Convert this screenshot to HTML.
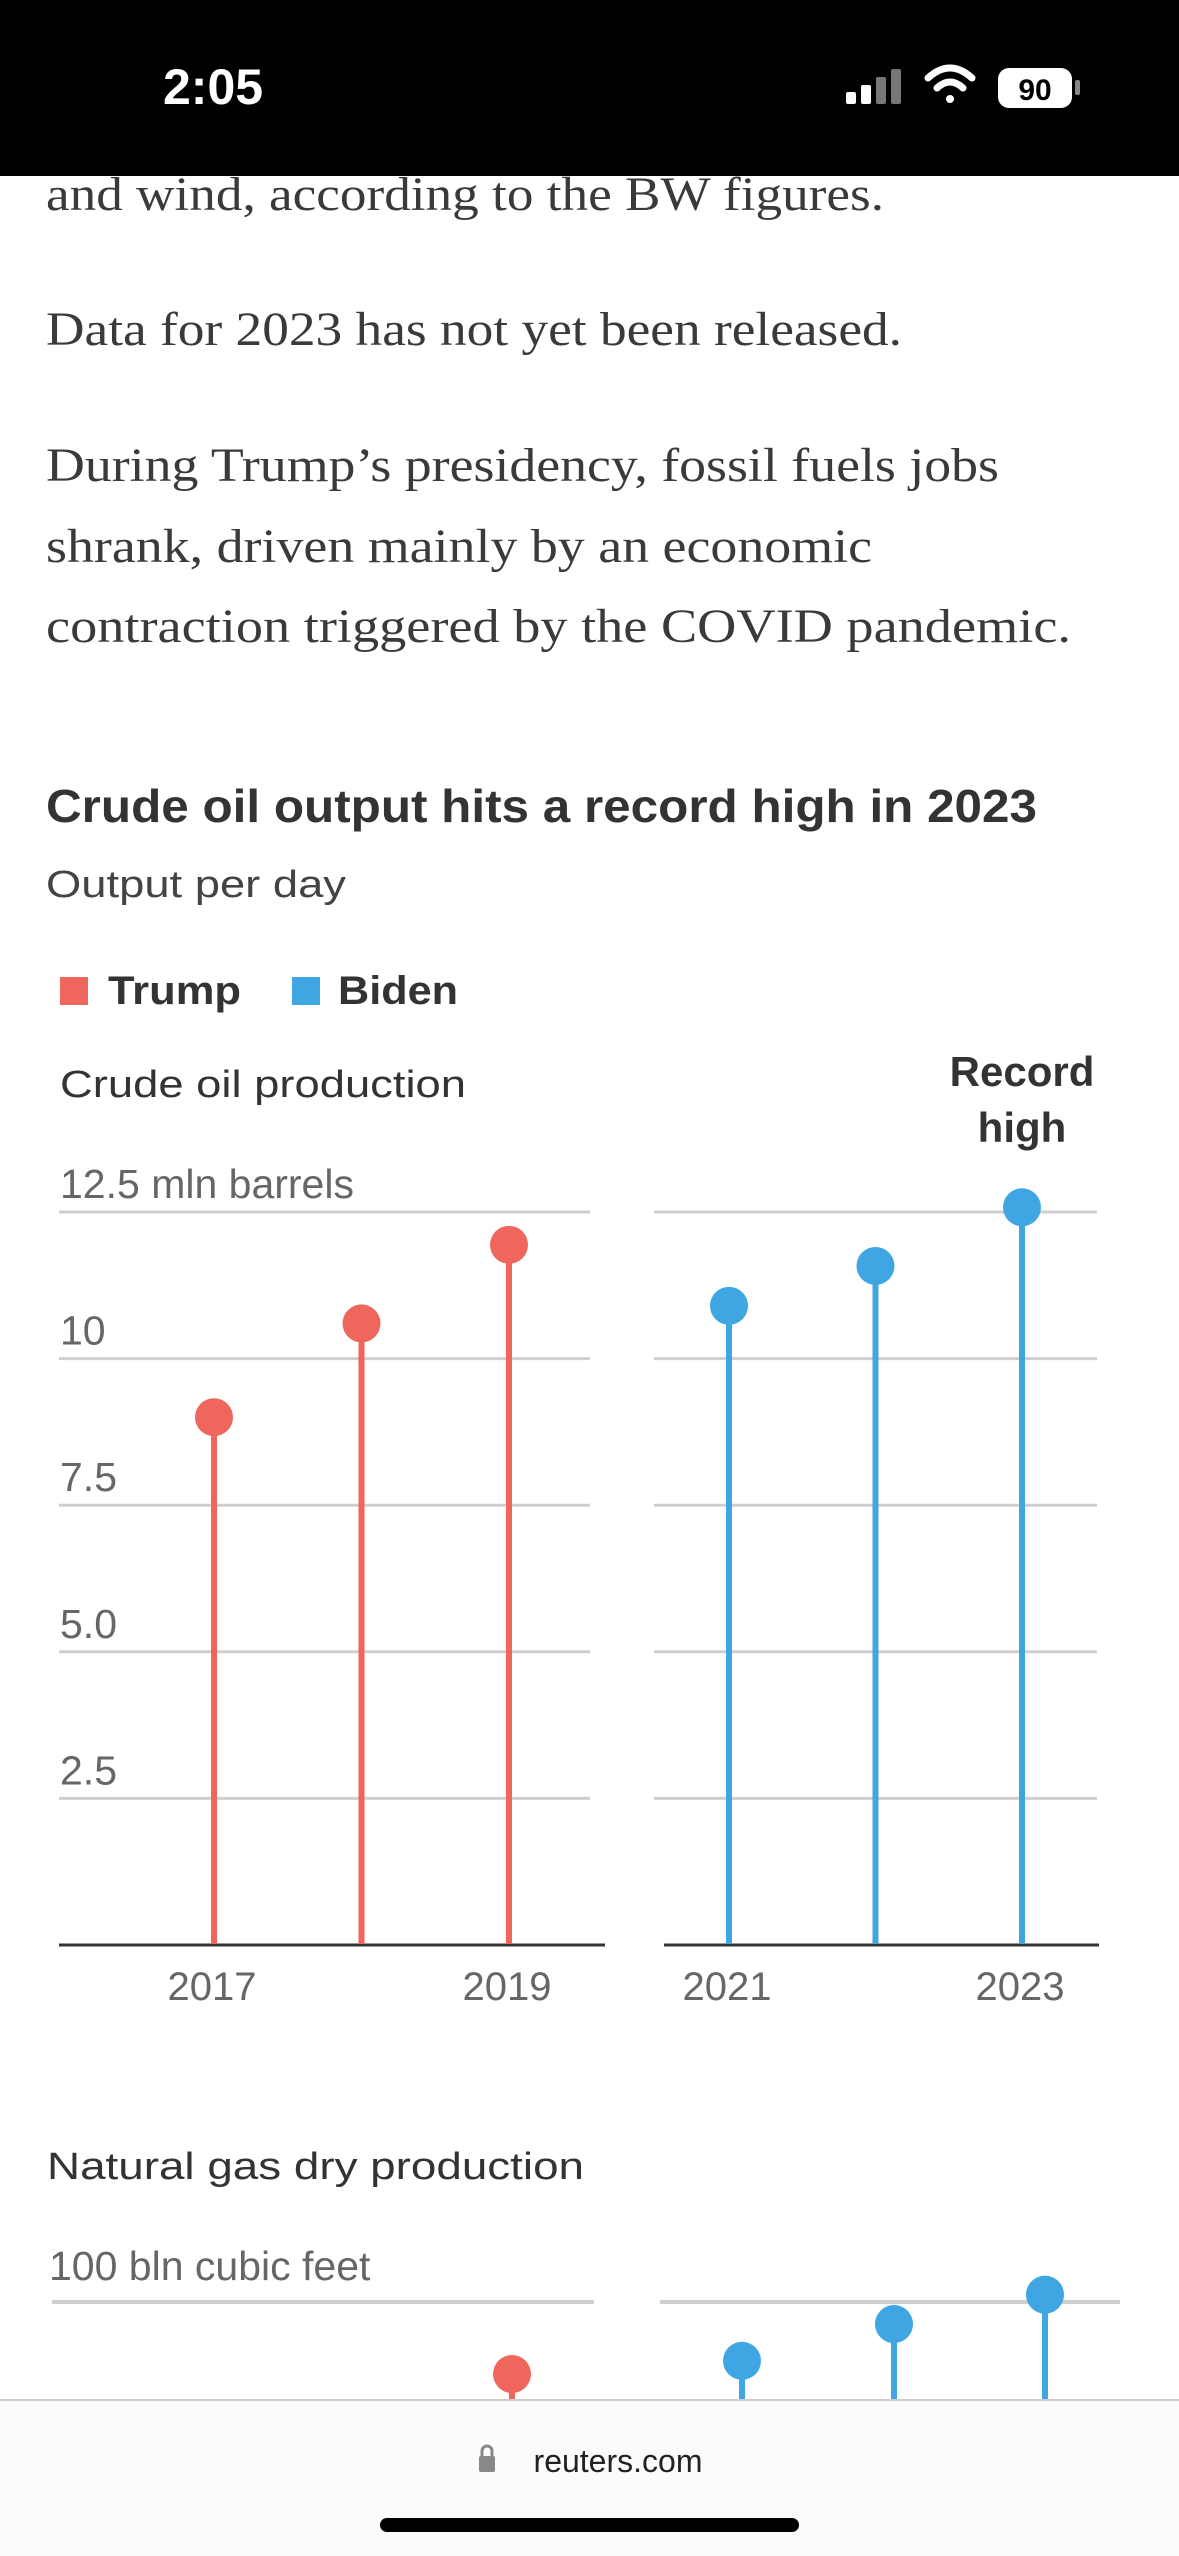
<!DOCTYPE html>
<html><head><meta charset="utf-8"><style>
html,body{margin:0;padding:0;background:#fff;width:1179px;height:2556px;overflow:hidden}
svg{display:block}
</style></head><body>
<svg id="page" width="1179" height="2556" viewBox="0 0 1179 2556" xmlns="http://www.w3.org/2000/svg">
<g font-family="Liberation Serif, serif" font-size="48" fill="#3a3a3a">
<text x="46" y="210" textLength="838" lengthAdjust="spacingAndGlyphs">and wind, according to the BW figures.</text>
<text x="46" y="345" textLength="856" lengthAdjust="spacingAndGlyphs">Data for 2023 has not yet been released.</text>
<text x="46" y="481" textLength="953" lengthAdjust="spacingAndGlyphs">During Trump’s presidency, fossil fuels jobs</text>
<text x="46" y="562" textLength="826" lengthAdjust="spacingAndGlyphs">shrank, driven mainly by an economic</text>
<text x="46" y="642" textLength="1025" lengthAdjust="spacingAndGlyphs">contraction triggered by the COVID pandemic.</text>
</g>
<rect x="0" y="0" width="1179" height="176" fill="#000"/>
<text x="163" y="104" font-family="Liberation Sans, sans-serif" font-weight="bold" font-size="50" fill="#fff">2:05</text>
<g fill="#fff">
<rect x="846" y="92" width="10" height="12" rx="2"/><rect x="861" y="85" width="10" height="19" rx="2"/><rect x="876" y="77" width="10" height="27" rx="2" fill="#777"/><rect x="891" y="69" width="10" height="35" rx="2" fill="#777"/>
</g>
<g fill="none" stroke="#fff" stroke-width="7" stroke-linecap="round">
<path d="M928 78 Q950 58 972 78"/><path d="M937 88 Q950 76 963 88"/><circle cx="950" cy="99" r="4" fill="#fff" stroke="none"/>
</g>
<g>
<rect x="998" y="68" width="74" height="40" rx="11" fill="#fff"/>
<rect x="1075" y="80" width="5" height="15" rx="2" fill="#888"/>
<text x="1035" y="100" text-anchor="middle" font-family="Liberation Sans, sans-serif" font-weight="bold" font-size="30" fill="#000">90</text>
</g>

<text x="46" y="822" font-family="Liberation Sans, sans-serif" font-weight="bold" font-size="46" fill="#333" textLength="991" lengthAdjust="spacingAndGlyphs">Crude oil output hits a record high in 2023</text>
<text x="46" y="897" font-family="Liberation Sans, sans-serif" font-size="38" fill="#444" textLength="300" lengthAdjust="spacingAndGlyphs">Output per day</text>

<g font-family="Liberation Sans, sans-serif" font-weight="bold" font-size="40" fill="#333">
<rect x="60" y="977" width="28" height="28" fill="#ef665c"/>
<text x="108" y="1004" textLength="133" lengthAdjust="spacingAndGlyphs">Trump</text>
<rect x="292" y="977" width="28" height="28" fill="#3fa6e3"/>
<text x="338" y="1004" textLength="120" lengthAdjust="spacingAndGlyphs">Biden</text>
</g>

<text x="60" y="1097" font-family="Liberation Sans, sans-serif" font-size="38" fill="#333" textLength="406" lengthAdjust="spacingAndGlyphs">Crude oil production</text>
<g font-family="Liberation Sans, sans-serif" font-weight="bold" font-size="42" fill="#333" text-anchor="middle">
<text x="1022" y="1086">Record</text><text x="1022" y="1142">high</text>
</g>
<g id="oil"></g>

<text x="47" y="2179" font-family="Liberation Sans, sans-serif" font-size="38" fill="#333" textLength="537" lengthAdjust="spacingAndGlyphs">Natural gas dry production</text>
<g id="gas"></g>

<rect x="0" y="2400" width="1179" height="156" fill="#fbfbfb"/>
<line x1="0" y1="2400" x2="1179" y2="2400" stroke="#ccc" stroke-width="2"/>
<g fill="#888"><rect x="479" y="2456" width="16" height="16" rx="2"/><path d="M482 2457 v-6 a5 5 0 0 1 10 0 v6" fill="none" stroke="#888" stroke-width="3"/></g>
<text x="618" y="2472" text-anchor="middle" font-family="Liberation Sans, sans-serif" font-size="32" fill="#222">reuters.com</text>
<rect x="380" y="2518" width="419" height="14" rx="7" fill="#000"/>
</svg>
<script>
const oilYears = [2017, 2018, 2019, 2021, 2022, 2023];
const oilValues = [9.0, 10.6, 11.94, 10.9, 11.58, 12.58];
const oilTicks = [2.5, 5.0, 7.5, 10, 12.5];
const oilTickLabels = ["2.5", "5.0", "7.5", "10", "12.5 mln barrels"];
const oilXLabels = ["2017", "2019", "2021", "2023"];
const gasYears = [2019, 2021, 2022, 2023];
const gasValues = [90.2, 92, 97, 101];
const gasTicks = [100];
const gasTickLabels = ["100 bln cubic feet"];

const NS = "http://www.w3.org/2000/svg";
const RED = "#ef665c", BLUE = "#3fa6e3";
function mk(parent, tag, attrs) {
  const e = document.createElementNS(NS, tag);
  for (const k in attrs) e.setAttribute(k, attrs[k]);
  parent.appendChild(e); return e;
}
function xYear(y) {
  if (y <= 2020) return 214 + (y - 2017) * 147.5;
  return 729 + (y - 2021) * 146.5;
}
function oilScale(v){ return 1945 - v * (733 / 12.5); }
const oil = document.getElementById('oil');
oilTicks.forEach((t, i) => {
  const y = oilScale(t);
  let l = mk(oil, 'line', {x1: 59, x2: 590, y1: y, y2: y, stroke: '#cfcfcf', 'stroke-width': 3});
  
  
  l = mk(oil, 'line', {x1: 654, x2: 1097, y1: y, y2: y, stroke: '#cfcfcf', 'stroke-width': 3});
  
  
  const tx = mk(oil, 'text', {x: 60, y: y - 14, 'font-family': 'Liberation Sans, sans-serif', 'font-size': 41, fill: '#666'});
  tx.textContent = oilTickLabels[i];
  
  
});
let b = mk(oil, 'line', {x1: 59, x2: 605, y1: 1945, y2: 1945, stroke: '#333', 'stroke-width': 3});


b = mk(oil, 'line', {x1: 664, x2: 1099, y1: 1945, y2: 1945, stroke: '#333', 'stroke-width': 3});


oilYears.forEach((yr, i) => {
  const x = xYear(yr), y = oilScale(oilValues[i]), c = yr <= 2020 ? RED : BLUE;
  const s = mk(oil, 'line', {x1: x, x2: x, y1: 1944, y2: y, stroke: c, 'stroke-width': 6});
  
  
  const d = mk(oil, 'circle', {cx: x, cy: y, r: 19, fill: c});
  
  
});
oilXLabels.forEach(lbl => {
  const t = mk(oil, 'text', {x: xYear(+lbl) - 2, y: 2000, 'text-anchor': 'middle', 'font-family': 'Liberation Sans, sans-serif', 'font-size': 40, fill: '#666'});
  t.textContent = lbl;
  
  
});
function gasScale(v){ return 2302 - (v - 100) * 7.35; }
const gas = document.getElementById('gas');
gasTicks.forEach((t, i) => {
  const y = gasScale(t);
  let l = mk(gas, 'line', {x1: 52, x2: 594, y1: y, y2: y, stroke: '#cfcfcf', 'stroke-width': 4});
  
  
  l = mk(gas, 'line', {x1: 660, x2: 1120, y1: y, y2: y, stroke: '#cfcfcf', 'stroke-width': 4});
  
  
  const tx = mk(gas, 'text', {x: 49, y: y - 22, 'font-family': 'Liberation Sans, sans-serif', 'font-size': 41, fill: '#666'});
  tx.textContent = gasTickLabels[i];
  
  
});
const gx = {2019: 512, 2021: 742, 2022: 894, 2023: 1045};
gasYears.forEach((yr, i) => {
  const x = gx[yr], y = gasScale(gasValues[i]), c = yr <= 2020 ? RED : BLUE;
  const s = mk(gas, 'line', {x1: x, x2: x, y1: 2400, y2: y, stroke: c, 'stroke-width': 6});
  
  
  const d = mk(gas, 'circle', {cx: x, cy: y, r: 19, fill: c});
  
  
});
</script>
</body></html>
